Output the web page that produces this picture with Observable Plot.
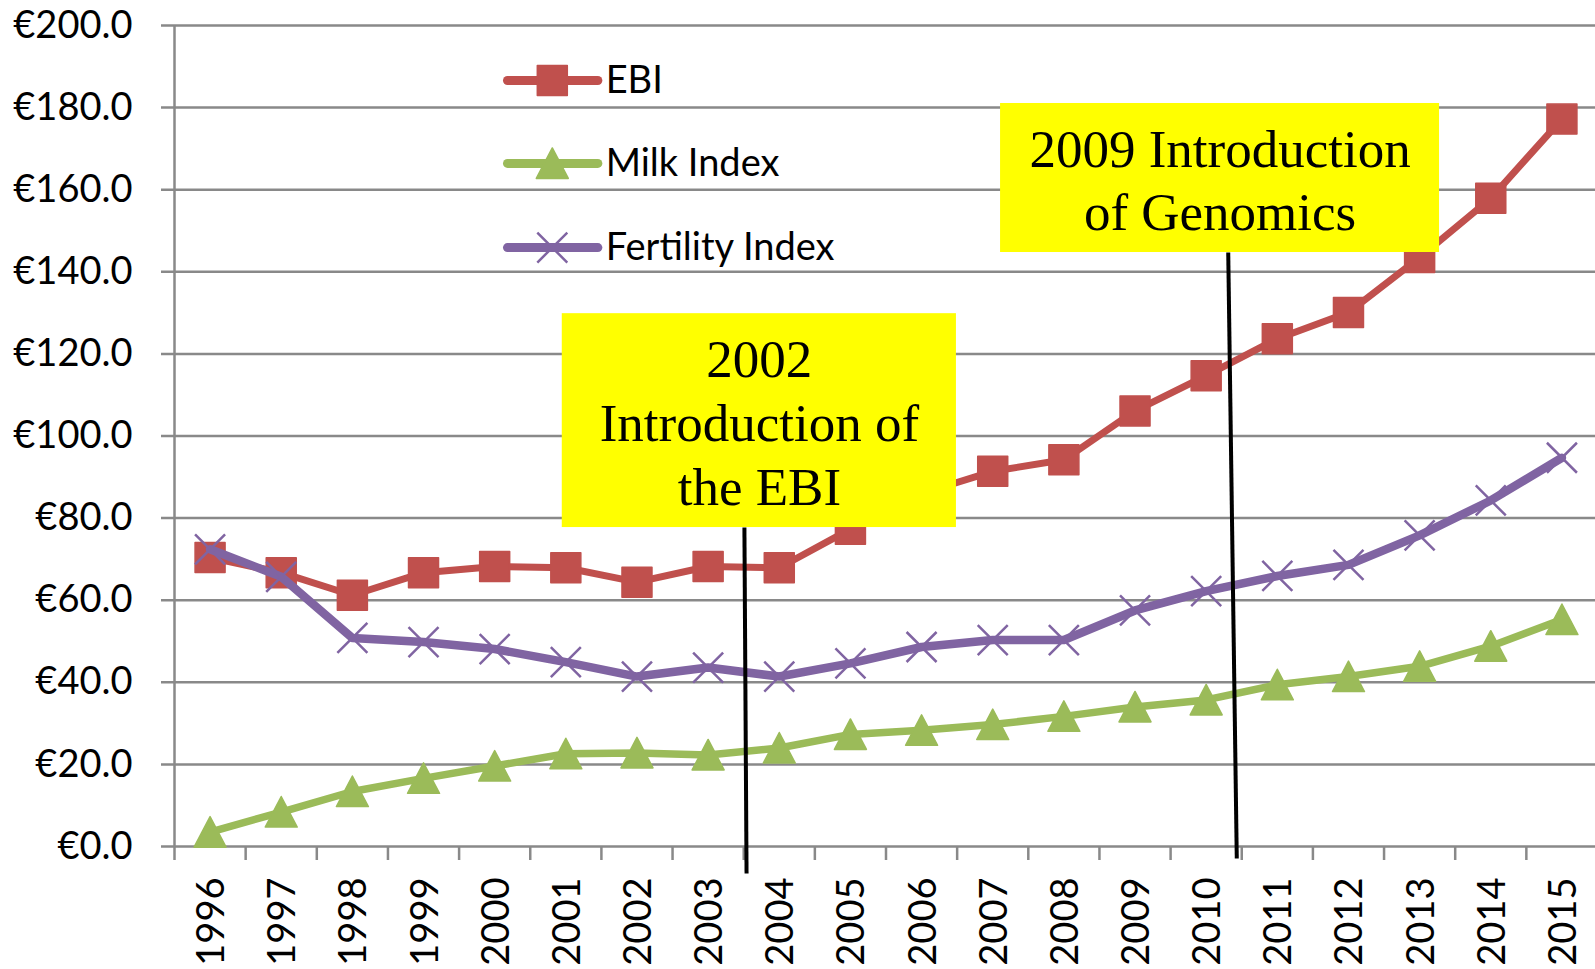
<!DOCTYPE html>
<html><head><meta charset="utf-8">
<script src="https://cdn.jsdelivr.net/npm/d3@7"></script>
<script src="https://cdn.jsdelivr.net/npm/@observablehq/plot@0.6"></script>
<style>html,body{margin:0;padding:0;background:#fff;overflow:hidden}</style>
</head><body><div id="chart"></div>
<script>
// ---- data ----
const years = [1996,1997,1998,1999,2000,2001,2002,2003,2004,2005,2006,2007,2008,2009,2010,2011,2012,2013,2014,2015];
const ebi = [70.4,66.7,61.2,66.7,68.2,67.9,64.4,68.2,67.9,77.3,86.0,91.4,94.2,106.1,114.7,123.7,130.1,143.5,157.9,177.2];
const milk = [3.5,8.4,13.4,16.6,19.6,22.6,22.8,22.3,24.0,27.3,28.3,29.7,31.7,34.0,35.7,39.4,41.4,43.9,48.8,55.3];
const fertility = [72.4,65.7,50.8,49.8,48.1,44.9,41.4,43.6,41.4,44.6,48.6,50.3,50.3,57.5,62.2,65.9,68.6,75.8,84.3,94.7];
const seriesNames = ["EBI","Milk Index","Fertility Index"];
const yTicks = [0,20,40,60,80,100,120,140,160,180,200];
const annotationTexts = ["2002\nIntroduction of\nthe EBI","2009 Introduction\nof Genomics"];

// ---- layout (data units) ----
const boxes = [
  {x1:2000.95, x2:2006.49, y1:77.7, y2:129.8, lx1:2003.51, ly1:77.7, lx2:2003.54, ly2:-6.6},
  {x1:2007.11, x2:2013.28, y1:144.7, y2:181.0, lx1:2010.31, ly1:144.7, lx2:2010.43, ly2:-2.9}
];
const legendLayout = {x1:2000.18, x2:2001.45, xm:2000.81, xt:2001.56, ys:[186.6,166.4,145.9]};

// ---- styles ----
const colors = ["#C0504D","#9BBB59","#8064A2"];
const widths = [7,7.5,8.5];
const grid = "#898989";

const squareSym = {draw(c){const s=15; c.moveTo(-s,-s); c.lineTo(s,-s); c.lineTo(s,s); c.lineTo(-s,s); c.closePath();}};
const triSym = {draw(c){c.moveTo(0,-15.5); c.lineTo(16,15); c.lineTo(-16,15); c.closePath();}};
const xSym = {draw(c){const s=15; c.moveTo(-s,-s); c.lineTo(s,s); c.moveTo(-s,s); c.lineTo(s,-s);}};
const symbols = [squareSym, triSym, xSym];

const values = [ebi, milk, fertility];
const series = seriesNames.map((name,i)=>years.map((yr,j)=>({year:yr, value:values[i][j], name})));
const boundaries = years.map(y=>y-0.5).concat([years[years.length-1]+0.5]);

function dotOpts(i){
  return i===2
    ? {fill:"none", stroke:colors[i], strokeWidth:2.5}
    : {fill:colors[i], stroke:colors[i], strokeWidth:1.5, strokeLinejoin:"round"};
}

const marks = [
  Plot.ruleY(yTicks, {y:d=>d, stroke:grid, strokeWidth:2.5, insetLeft:-13}),
  Plot.ruleX([boundaries[0]], {x:d=>d, y1:0, y2:200, stroke:grid, strokeWidth:2.5}),
  Plot.ruleX(boundaries, {x:d=>d, y1:0, y2:0, insetBottom:-14, stroke:grid, strokeWidth:2.5}),
  Plot.text(years, {x:d=>d, frameAnchor:"bottom", text:d=>String(d), rotate:-90, textAnchor:"end", dy:31, dx:14, fontSize:38, fill:"#000"}),
  Plot.text(yTicks, {y:d=>d, frameAnchor:"left", text:d=>"€"+d.toFixed(1), textAnchor:"end", dx:-42, fontSize:38, fill:"#000"})
];

series.forEach((s,i)=>{
  marks.push(Plot.line(s, {x:"year", y:"value", stroke:colors[i], strokeWidth:widths[i], strokeLinejoin:"round", strokeLinecap:"round"}));
  marks.push(Plot.dot(s, {x:"year", y:"value", symbol:symbols[i], r:10, ...dotOpts(i)}));
});

// legend
seriesNames.forEach((name,i)=>{
  const row = [{name, y:legendLayout.ys[i]}];
  marks.push(Plot.link(row, {x1:()=>legendLayout.x1, x2:()=>legendLayout.x2, y1:"y", y2:"y", stroke:colors[i], strokeWidth:9, strokeLinecap:"round"}));
  marks.push(Plot.dot(row, {x:()=>legendLayout.xm, y:"y", symbol:symbols[i], r:10, ...dotOpts(i)}));
  marks.push(Plot.text(row, {x:()=>legendLayout.xt, y:"y", text:"name", textAnchor:"start", fontSize:38, fill:"#000"}));
});

// annotations
const ann = boxes.map((b,i)=>({...b, text:annotationTexts[i], cx:(b.x1+b.x2)/2, cy:(b.y1+b.y2)/2}));
marks.push(Plot.rect(ann, {x1:"x1", x2:"x2", y1:"y1", y2:"y2", fill:"#FFFF00"}));
marks.push(Plot.text(ann, {x:"cx", y:"cy", text:"text", fontFamily:"Liberation Serif, 'Times New Roman', serif", fontSize:53, lineHeight:1.2, textAnchor:"middle", fill:"#000"}));
marks.push(Plot.link(ann, {x1:"lx1", y1:"ly1", x2:"lx2", y2:"ly2", stroke:"#000", strokeWidth:4}));

const chart = Plot.plot({
  width:1595, height:969,
  marginLeft:174, marginRight:0, marginTop:25, marginBottom:123,
  x:{type:"linear", domain:[boundaries[0], boundaries[boundaries.length-1]], range:[174,1597], axis:null},
  y:{type:"linear", domain:[0,200], axis:null},
  style:{fontFamily:"Lato, 'Open Sans', sans-serif", background:"#fff", overflow:"visible"},
  marks
});
document.getElementById("chart").appendChild(chart);
</script>
</body></html>
